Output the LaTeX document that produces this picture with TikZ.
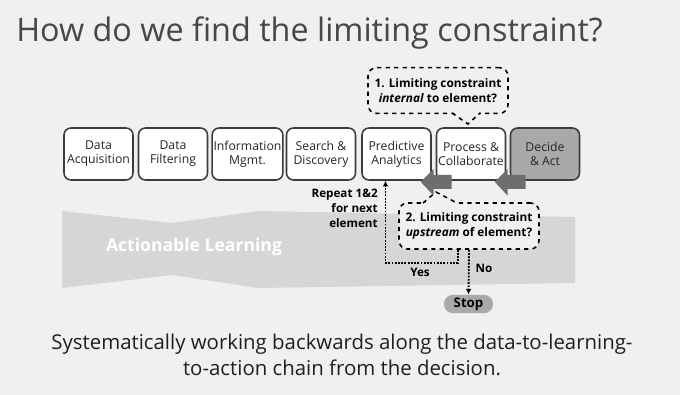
\documentclass[tikz,border=0pt]{standalone}
\usepackage{fontspec}
\setmainfont{Open Sans}
\usetikzlibrary{calc}
\usetikzlibrary{arrows.meta}

\definecolor{slidebg}{HTML}{F0F0F0}
\definecolor{bandgray}{HTML}{D6D6D6}
\definecolor{boxline}{HTML}{3C3C3C}
\definecolor{darkfill}{HTML}{A9A9A9}
\definecolor{arrowgray}{HTML}{6E6E6E}
\definecolor{titlegray}{HTML}{474747}

\begin{document}
\begin{tikzpicture}[
      x=0.025cm, y=-0.025cm,
      stage/.style={draw=boxline, line width=1.1pt, fill=white, rounded corners=5pt,
        minimum width=1.725cm, minimum height=1.3cm, inner sep=1pt, align=center,
        text=black!85, font=\fontsize{8.7}{10}\selectfont},
      question/.style={draw=black, dashed, line width=1.1pt, fill=slidebg, rounded corners=6pt,
        minimum width=3.5cm, minimum height=1.14cm, align=center,
        font=\bfseries\fontsize{8.4}{10.4}\selectfont},
      loop/.style={densely dotted, line width=1.3pt, -{Latex[length=4pt,width=4pt]}},
      label/.style={font=\bfseries\fontsize{8.3}{10.6}\selectfont, inner sep=0pt},
      ]

      \fill[slidebg] (0,0) rectangle (680,395);
      \useasboundingbox (0,0) rectangle (680,395);

      \node[titlegray, anchor=west, font=\fontsize{23}{28}\selectfont, inner sep=0pt] (title) at (16,33) {How do we find the limiting constraint?};

      % actionable learning band
      \fill[bandgray] (62,211) -- (172,223) -- (258,211) -- (575,217) -- (575,283) -- (258,288) -- (172,275) -- (62,288) -- cycle;
      \node[white, font=\bfseries\fontsize{12.5}{14}\selectfont] (band) at (194,247) {Actionable Learning};

      % the chain
      \node[stage] (dacq)   at (98.5,154) {Data\\Acquisition};
      \node[stage] (dfilt)  at (173,154)  {Data\\Filtering};
      \node[stage] (info)   at (247.5,154) {Information\\Mgmt.};
      \node[stage] (search) at (321,154)  {Search \&\\Discovery};
      \node[stage] (pred)   at (396.5,154) {Predictive\\Analytics};
      \node[stage] (proc)   at (471,154)  {Process \&\\Collaborate};
      \node[stage, fill=darkfill] (decide) at (545,154) {Decide\\\& Act};

      % backwards arrows
      \foreach \b in {proc, decide}
        \fill[arrowgray] ($(\b.south west)+(-15,1)$) -- ++(13,-13) -- ++(0,6) -- ++(18,0) -- ++(0,14) -- ++(-18,0) -- ++(0,7) -- cycle;

      % question 1
      \node[question] (q1) at (438,90.5) {1. Limiting constraint\\\textit{internal} to element?};
      \fill[slidebg] (453,112) -- (468,124) -- (480,112) -- cycle;
      \draw[dashed, line width=1.1pt] (452,113) -- (468,124) -- (480,113);

      % question 2
      \node[question, minimum height=1.15cm] (q2) at (469,226) {2. Limiting constraint\\\textit{upstream} of element?};
      \fill[slidebg] (424,204) -- (436,192) -- (457,204) -- cycle;
      \draw[dashed, line width=1.1pt] (423,203) -- (436,192) -- (457,203);

      \node[fill=darkfill, rounded corners=6.4pt, minimum width=1.225cm, minimum height=0.46cm, inner sep=0pt,
        font=\bfseries\fontsize{9.4}{10}\selectfont] (stop) at (468.5,304) {Stop};

      \draw[loop] ($(q2.south)+(-11,0)$) -- ++(0,13) -| ($(pred.south)+(-11,0)$);
      \draw[loop] (q2.south) -- (stop.north);

      \node[label, anchor=north east, align=right] (repeat) at (378,189) {Repeat 1\&2\\for next\\element};
      \node[label] (yes) at (420,272) {Yes};
      \node[label] (no) at (484,268) {No};

      \node[black!88, align=center, font=\fontsize{14.5}{18.5}\selectfont, inner sep=0pt] (summary) at (342,355)
        {Systematically working backwards along the data-to-learning-\\to-action chain from the decision.};

    \end{tikzpicture}
\end{document}
